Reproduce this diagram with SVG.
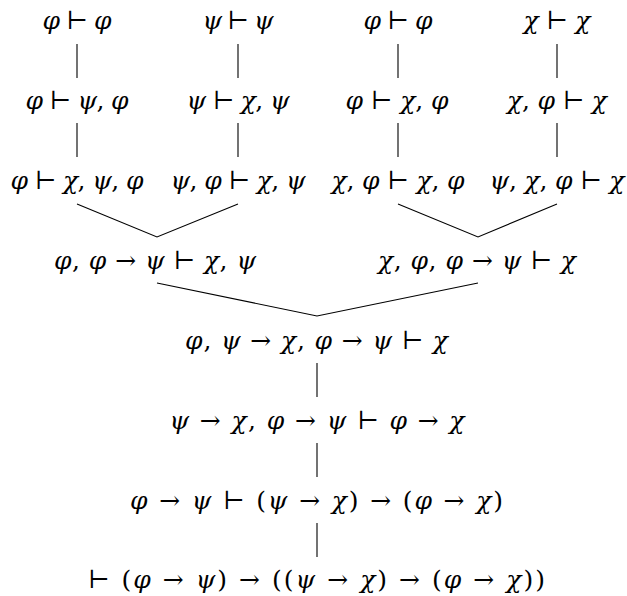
<svg xmlns="http://www.w3.org/2000/svg" width="627" height="596" viewBox="0 0 627 596">
<style>
text{font-family:"DejaVu Serif",serif;font-size:25px;fill:#000;text-anchor:middle}
.v{font-style:italic}
.e{stroke:#000;stroke-width:1.1;fill:none}
</style>
<rect width="627" height="596" fill="#fff"/>
<g id="n1"><text x="77" y="29" textLength="69" lengthAdjust="spacing"><tspan class="v">φ</tspan> ⊢ <tspan class="v">φ</tspan></text></g>
<g id="n2"><text x="238" y="29" textLength="71" lengthAdjust="spacing"><tspan class="v">ψ</tspan> ⊢ <tspan class="v">ψ</tspan></text></g>
<g id="n3"><text x="398" y="29" textLength="69" lengthAdjust="spacing"><tspan class="v">φ</tspan> ⊢ <tspan class="v">φ</tspan></text></g>
<g id="n4"><text x="557" y="29" textLength="67" lengthAdjust="spacing"><tspan class="v">χ</tspan> ⊢ <tspan class="v">χ</tspan></text></g>
<g id="n5"><text x="77" y="109" textLength="103" lengthAdjust="spacing"><tspan class="v">φ</tspan> ⊢ <tspan class="v">ψ</tspan>, <tspan class="v">φ</tspan></text></g>
<g id="n6"><text x="238" y="109" textLength="103" lengthAdjust="spacing"><tspan class="v">ψ</tspan> ⊢ <tspan class="v">χ</tspan>, <tspan class="v">ψ</tspan></text></g>
<g id="n7"><text x="397" y="109" textLength="103" lengthAdjust="spacing"><tspan class="v">φ</tspan> ⊢ <tspan class="v">χ</tspan>, <tspan class="v">φ</tspan></text></g>
<g id="n8"><text x="557" y="109" textLength="100" lengthAdjust="spacing"><tspan class="v">χ</tspan>, <tspan class="v">φ</tspan> ⊢ <tspan class="v">χ</tspan></text></g>
<g id="n9"><text x="77" y="189" textLength="133" lengthAdjust="spacing"><tspan class="v">φ</tspan> ⊢ <tspan class="v">χ</tspan>, <tspan class="v">ψ</tspan>, <tspan class="v">φ</tspan></text></g>
<g id="n10"><text x="238" y="189" textLength="135" lengthAdjust="spacing"><tspan class="v">ψ</tspan>, <tspan class="v">φ</tspan> ⊢ <tspan class="v">χ</tspan>, <tspan class="v">ψ</tspan></text></g>
<g id="n11"><text x="398" y="189" textLength="133" lengthAdjust="spacing"><tspan class="v">χ</tspan>, <tspan class="v">φ</tspan> ⊢ <tspan class="v">χ</tspan>, <tspan class="v">φ</tspan></text></g>
<g id="n12"><text x="557" y="189" textLength="135" lengthAdjust="spacing"><tspan class="v">ψ</tspan>, <tspan class="v">χ</tspan>, <tspan class="v">φ</tspan> ⊢ <tspan class="v">χ</tspan></text></g>
<g id="n13"><text x="155" y="269" textLength="202" lengthAdjust="spacing"><tspan class="v">φ</tspan>, <tspan class="v">φ</tspan> → <tspan class="v">ψ</tspan> ⊢ <tspan class="v">χ</tspan>, <tspan class="v">ψ</tspan></text></g>
<g id="n14"><text x="477" y="269" textLength="198" lengthAdjust="spacing"><tspan class="v">χ</tspan>, <tspan class="v">φ</tspan>, <tspan class="v">φ</tspan> → <tspan class="v">ψ</tspan> ⊢ <tspan class="v">χ</tspan></text></g>
<g id="n15"><text x="316.5" y="349" textLength="263" lengthAdjust="spacing"><tspan class="v">φ</tspan>, <tspan class="v">ψ</tspan> → <tspan class="v">χ</tspan>, <tspan class="v">φ</tspan> → <tspan class="v">ψ</tspan> ⊢ <tspan class="v">χ</tspan></text></g>
<g id="n16"><text x="317" y="429" textLength="295" lengthAdjust="spacing"><tspan class="v">ψ</tspan> → <tspan class="v">χ</tspan>, <tspan class="v">φ</tspan> → <tspan class="v">ψ</tspan> ⊢ <tspan class="v">φ</tspan> → <tspan class="v">χ</tspan></text></g>
<g id="n17"><text x="316.5" y="509" textLength="373" lengthAdjust="spacing"><tspan class="v">φ</tspan> → <tspan class="v">ψ</tspan> ⊢ (<tspan class="v">ψ</tspan> → <tspan class="v">χ</tspan>) → (<tspan class="v">φ</tspan> → <tspan class="v">χ</tspan>)</text></g>
<g id="n18"><text x="316.5" y="588" textLength="457" lengthAdjust="spacing">⊢ (<tspan class="v">φ</tspan> → <tspan class="v">ψ</tspan>) → ((<tspan class="v">ψ</tspan> → <tspan class="v">χ</tspan>) → (<tspan class="v">φ</tspan> → <tspan class="v">χ</tspan>))</text></g>
<g id="edges" class="e">
<path class="e" d="M77 44V78M238 44V78M398 44V78M557 44V78M77 123V157M238 123V157M398 123V157M557 123V157"/>
<path class="e" d="M77 204L157 237L238 204M398 204L478 237L557 204"/>
<path class="e" d="M157 283L317 316L478 283"/>
<path class="e" d="M317 363V397M317 443V477M317 523V557"/>
</g>
</svg>
